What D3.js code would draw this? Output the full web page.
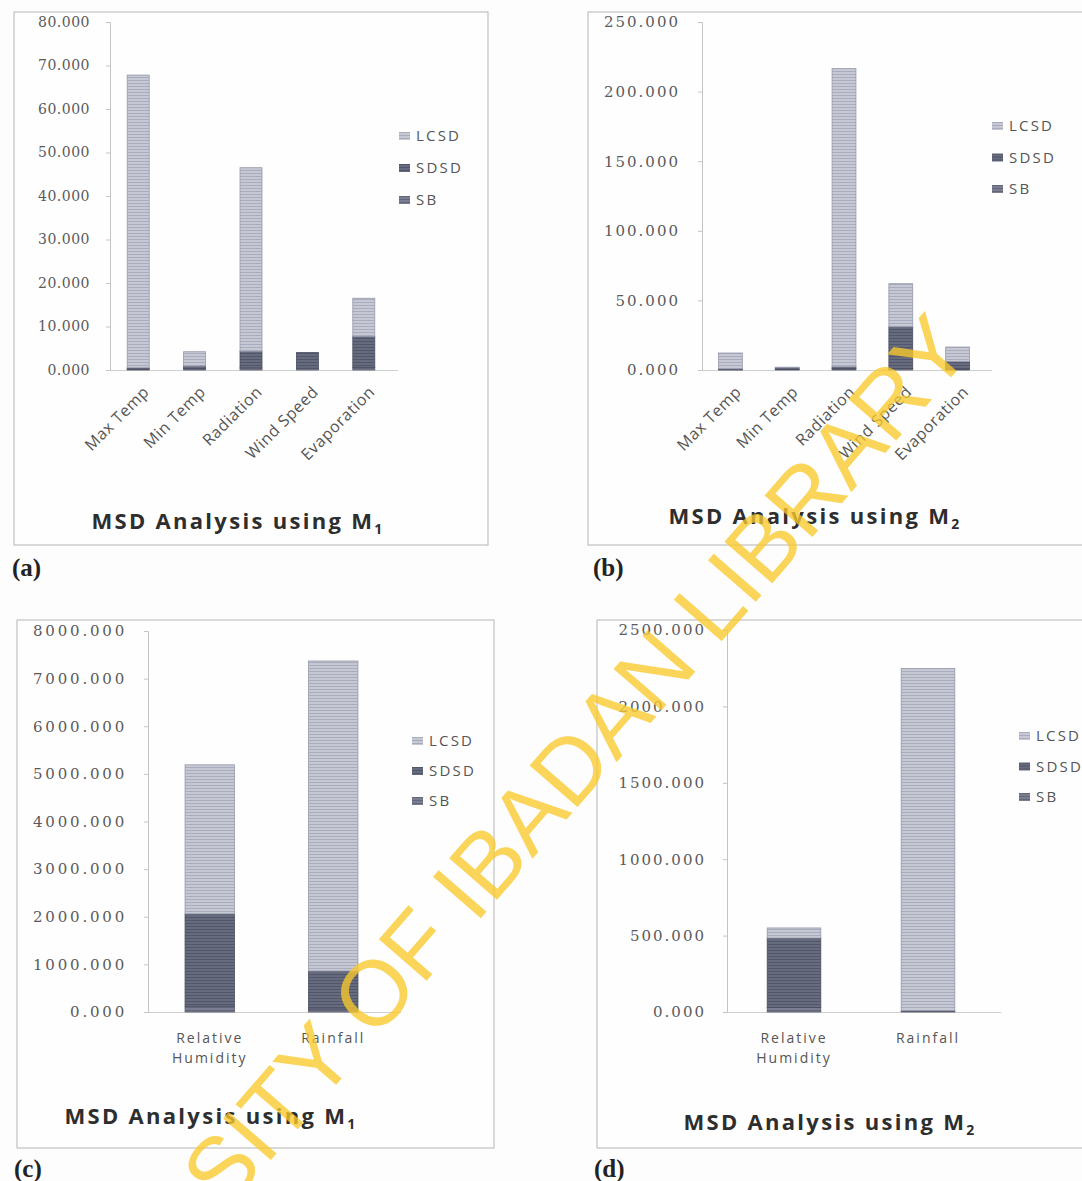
<!DOCTYPE html>
<html>
<head>
<meta charset="utf-8">
<script src="https://cdn.jsdelivr.net/npm/d3@7"></script>
<style>
  body { margin: 0; background: #fdfdfd; }
  svg { display: block; }
</style>
</head>
<body>
<svg id="chart" width="1082" height="1181"></svg>
<script>
// series names (bottom to top of the stack)
var seriesKeys = ["SB", "SDSD", "LCSD"];
var legendKeys = ["LCSD", "SDSD", "SB"];

// panels (a) and (b): five variables
var catsTop = ["Max Temp", "Min Temp", "Radiation", "Wind Speed", "Evaporation"];
var sbA = [0.2, 0.3, 0.5, 0.4, 0.6];
var sdsdA = [0.3, 0.6, 3.8, 3.6, 7.1];
var lcsdA = [67.3, 3.3, 42.2, 0.0, 8.8];
var ticksA = [0, 10, 20, 30, 40, 50, 60, 70, 80];

var sbB = [0.2, 0.3, 0.8, 1.0, 0.5];
var sdsdB = [0.6, 1.2, 1.5, 30.0, 5.5];
var lcsdB = [11.4, 0.5, 214.2, 31.0, 10.5];
var ticksB = [0, 50, 100, 150, 200, 250];

// panels (c) and (d): two variables
var catsBottom = ["Relative Humidity", "Rainfall"];
var sbC = [120, 60];
var sdsdC = [1940, 800];
var lcsdC = [3130, 6510];
var ticksC = [0, 1000, 2000, 3000, 4000, 5000, 6000, 7000, 8000];

var sbD = [30, 3];
var sdsdD = [454, 5];
var lcsdD = [66, 2240];
var ticksD = [0, 500, 1000, 1500, 2000, 2500];

var svg = d3.select("#chart");
var defs = svg.append("defs");

// striped fills like the scanned print
var fills = {
  LCSD: { base: "#c6c8d4", line: "#a9acbd", edge: "#9598aa" },
  SDSD: { base: "#676b7e", line: "#52566a", edge: "#4a4d60" },
  SB:   { base: "#7a7e90", line: "#63677a", edge: "#585c6e" }
};
seriesKeys.forEach(function (k) {
  var p = defs.append("pattern").attr("id", "pat-" + k)
    .attr("patternUnits", "userSpaceOnUse").attr("width", 6).attr("height", 3);
  p.append("rect").attr("width", 6).attr("height", 3).attr("fill", fills[k].base);
  p.append("rect").attr("y", 2).attr("width", 6).attr("height", 1).attr("fill", fills[k].line);
});

function buildRows(cats, sb, sdsd, lcsd) {
  return cats.map(function (c, i) {
    return { cat: c, SB: sb[i], SDSD: sdsd[i], LCSD: lcsd[i] };
  });
}

function panel(cfg) {
  var g = svg.append("g");
  var f = cfg.frame;
  // outer frame
  g.append("rect").attr("x", f.x).attr("y", f.y).attr("width", f.w).attr("height", f.h)
    .attr("fill", "#fefefe").attr("stroke", "#b5b5b5").attr("stroke-width", 1);

  var rows = buildRows(cfg.cats, cfg.sb, cfg.sdsd, cfg.lcsd);
  var x = d3.scaleBand().domain(cfg.cats).range([cfg.x0, cfg.x1]).paddingInner(cfg.pad).paddingOuter(cfg.pad / 2);
  var y = d3.scaleLinear().domain([0, d3.max(cfg.ticks)]).range([cfg.yZero, cfg.yTop]);

  // y axis
  var ya = g.append("g").attr("transform", "translate(" + cfg.x0 + ",0)")
    .call(d3.axisLeft(y).tickValues(cfg.ticks).tickFormat(d3.format(".3f"))
      .tickSize(4).tickPadding(cfg.x0 - cfg.labelEnd - 4));
  ya.select(".domain").attr("stroke", "#c4c4c4");
  ya.selectAll(".tick line").attr("stroke", "#c4c4c4");
  ya.selectAll(".tick text").attr("fill", "#5a5a5a")
    .style("font-family", "'DejaVu Serif'").style("font-size", cfg.tickFont + "px")
    .style("letter-spacing", cfg.tickSpace + "px");

  // x axis line
  var xa = g.append("g").attr("transform", "translate(0," + cfg.yZero + ")")
    .call(d3.axisBottom(x).tickSize(0).tickFormat(""));
  xa.select(".domain").attr("stroke", "#cfcfcf").attr("d", "M" + cfg.x0 + ",0.5H" + (cfg.x1 + 6));

  // stacked bars
  var stack = d3.stack().keys(seriesKeys)(rows);
  g.selectAll("g.layer").data(stack).enter().append("g").attr("class", "layer")
    .each(function (layer) {
      d3.select(this).selectAll("rect").data(layer.filter(function (d) { return d[1] - d[0] > 0; }))
        .enter().append("rect")
        .attr("x", function (d) { return x(d.data.cat); })
        .attr("width", x.bandwidth())
        .attr("y", function (d) { return y(d[1]); })
        .attr("height", function (d) { return y(d[0]) - y(d[1]); })
        .attr("fill", "url(#pat-" + layer.key + ")")
        .attr("stroke", fills[layer.key].edge).attr("stroke-width", 0.8);
    });

  // category labels
  var lab = g.append("g").style("font-family", "'Open Sans'").attr("fill", "#555");
  if (cfg.rotate) {
    cfg.cats.forEach(function (c) {
      lab.append("text")
        .attr("transform", "translate(" + (x(c) + x.bandwidth() / 2 + 12) + "," + (cfg.yZero + 23) + ") rotate(-45)")
        .attr("text-anchor", "end").style("font-size", "16px").style("letter-spacing", "0.6px")
        .text(c);
    });
  } else {
    cfg.cats.forEach(function (c) {
      var t = lab.append("text").attr("text-anchor", "middle")
        .style("font-size", "14px").style("letter-spacing", "2px");
      c.split(" ").forEach(function (w, i) {
        t.append("tspan").attr("x", x(c) + x.bandwidth() / 2).attr("y", cfg.yZero + 31 + i * 20).text(w);
      });
    });
  }

  // legend
  var lg = g.append("g").attr("transform", "translate(" + cfg.legX + "," + cfg.legY + ")");
  legendKeys.forEach(function (k, i) {
    var row = lg.append("g").attr("transform", "translate(0," + i * cfg.legDy + ")");
    row.append("rect").attr("x", 0).attr("y", -4).attr("width", 11).attr("height", 8)
      .attr("fill", "url(#pat-" + k + ")");
    row.append("text").attr("x", 17).attr("y", 0).attr("dy", "0.35em")
      .style("font-family", "'Open Sans'").style("font-size", "15px").style("letter-spacing", "2.2px")
      .attr("fill", "#555").text(k);
  });

  // title
  var tt = g.append("text").attr("x", cfg.titleX).attr("y", cfg.titleY).attr("text-anchor", "middle")
    .style("font-family", "'Open Sans'").style("font-weight", "bold").style("font-size", "22px")
    .style("letter-spacing", "2.3px").attr("fill", "#2e2e2e");
  tt.append("tspan").text("MSD Analysis using M");
  tt.append("tspan").attr("dy", 5).style("font-size", "14px").text(cfg.sub);

  // panel letter
  svg.append("text").attr("x", cfg.letterX).attr("y", cfg.letterY)
    .style("font-family", "'Liberation Serif'").style("font-weight", "bold").style("font-size", "25px")
    .attr("fill", "#222").text(cfg.letter);
}

panel({ frame: { x: 14, y: 12, w: 474, h: 533 }, cats: catsTop, sb: sbA, sdsd: sdsdA, lcsd: lcsdA, ticks: ticksA,
  x0: 110, x1: 392, yTop: 22, yZero: 370, pad: 0.61, labelEnd: 90, tickFont: 14, tickSpace: 0.5, rotate: true,
  legX: 399, legY: 136, legDy: 32, titleX: 238, titleY: 529, sub: "1", letter: "(a)", letterX: 12, letterY: 576 });

panel({ frame: { x: 588, y: 12, w: 500, h: 533 }, cats: catsTop, sb: sbB, sdsd: sdsdB, lcsd: lcsdB, ticks: ticksB,
  x0: 702, x1: 986, yTop: 22, yZero: 370, pad: 0.58, labelEnd: 680, tickFont: 15, tickSpace: 2, rotate: true,
  legX: 992, legY: 126, legDy: 31.5, titleX: 815, titleY: 524, sub: "2", letter: "(b)", letterX: 593, letterY: 576 });

panel({ frame: { x: 17, y: 620, w: 477, h: 528 }, cats: catsBottom, sb: sbC, sdsd: sdsdC, lcsd: lcsdC, ticks: ticksC,
  x0: 148, x1: 395, yTop: 631, yZero: 1012, pad: 0.6, labelEnd: 127, tickFont: 15, tickSpace: 2.8, rotate: false,
  legX: 412, legY: 741, legDy: 30, titleX: 211, titleY: 1124, sub: "1", letter: "(c)", letterX: 14, letterY: 1177 });

panel({ frame: { x: 597, y: 620, w: 490, h: 528 }, cats: catsBottom, sb: sbD, sdsd: sdsdD, lcsd: lcsdD, ticks: ticksD,
  x0: 727, x1: 995, yTop: 630, yZero: 1012, pad: 0.6, labelEnd: 706, tickFont: 15, tickSpace: 2, rotate: false,
  legX: 1019, legY: 736, legDy: 30.5, titleX: 830, titleY: 1130, sub: "2", letter: "(d)", letterX: 594, letterY: 1177 });

// library watermark over the scan
svg.append("text")
  .attr("transform", "translate(974,351) rotate(-49)")
  .attr("text-anchor", "end")
  .style("font-family", "'Liberation Sans'").style("font-size", "92px")
  .attr("fill", "#f8c92c").attr("fill-opacity", 0.78)
  .text("UNIVERSITY OF IBADAN LIBRARY");
</script>
</body>
</html>
